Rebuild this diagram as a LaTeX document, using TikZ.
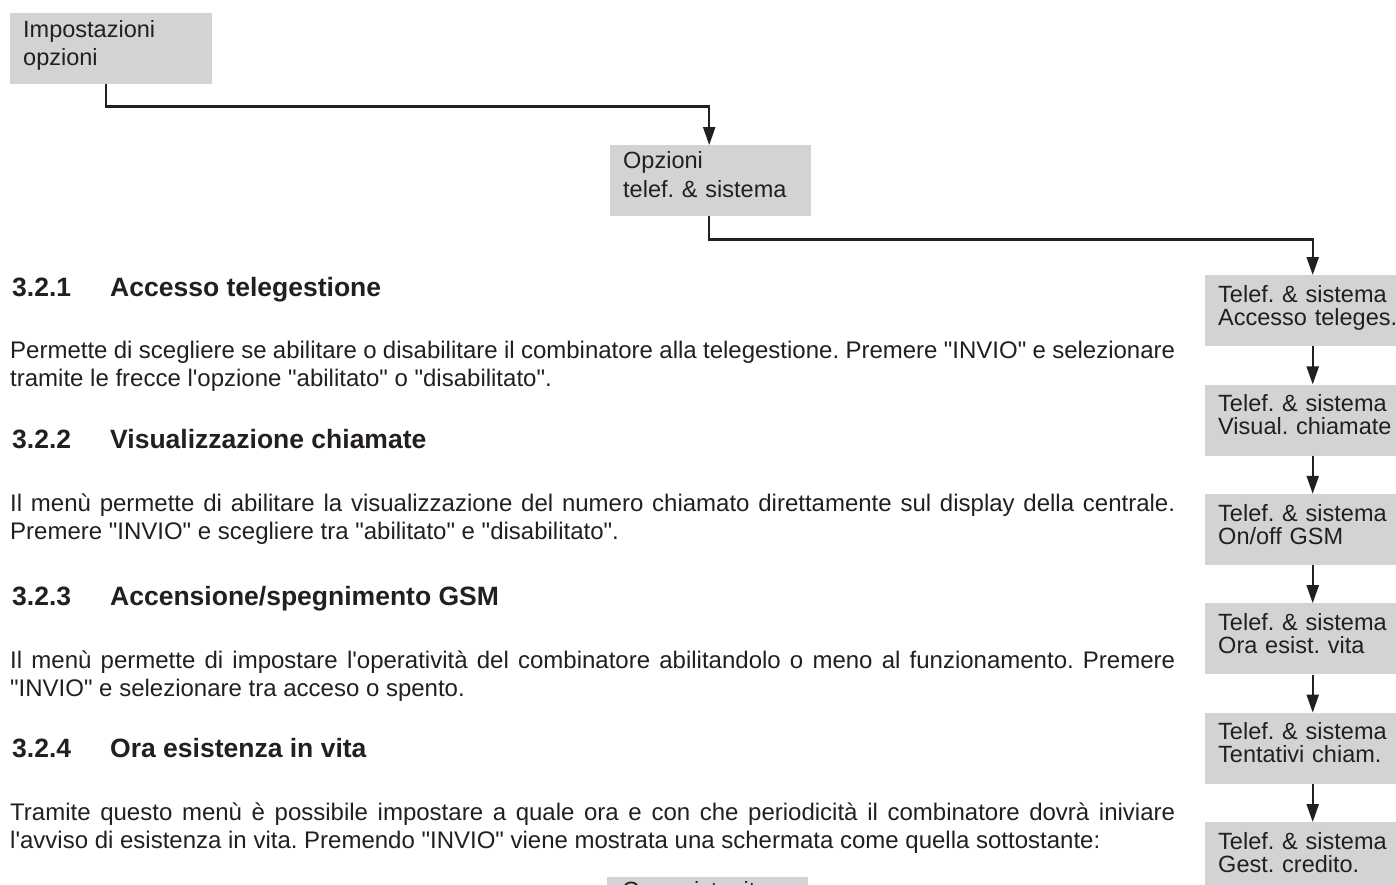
\documentclass[tikz,border=0pt]{standalone}
\usepackage{fontspec}
\setmainfont{Liberation Sans}[Ligatures=TeXOff]
\usetikzlibrary{arrows.meta}
\definecolor{ink}{HTML}{231F20}
\definecolor{boxgray}{HTML}{D1D3D4}
\newcommand\mybodyf{\fontsize{24bp}{28bp}\selectfont}
\newcommand\myheadf{\fontsize{26.5bp}{30bp}\selectfont\bfseries}
\frenchspacing
\begin{document}
\frenchspacing
\begin{tikzpicture}[x=1bp,y=-1bp,
  menubox/.style={fill=boxgray, draw=none, inner ysep=0pt, inner xsep=13bp,
    align=left, text=ink, anchor=north west},
  lbox/.style={menubox, text width=176bp, text height=24bp, text depth=47bp,
    font=\fontsize{23.5bp}{28bp}\selectfont},
  mbox/.style={menubox, text width=175bp, text height=23bp, text depth=48bp,
    font=\fontsize{23.5bp}{29bp}\selectfont},
  rbox/.style={menubox, text width=189bp, text height=27bp, text depth=44bp,
    font=\fontsize{23.5bp}{23bp}\selectfont},
  bbox/.style={menubox, inner xsep=15bp, text width=171bp, text height=21bp, text depth=50bp,
    font=\fontsize{23.5bp}{23bp}\selectfont},
  conn/.style={draw=ink, line width=2.3bp, -{Triangle[length=18bp,width=12bp]}},
  body/.style={font=\mybodyf, text=ink, inner sep=0pt, anchor=base west},
  head/.style={font=\myheadf, text=ink, inner sep=0pt, anchor=base west}
]
\useasboundingbox (0,0) rectangle (1396,884);
\clip (0,0) rectangle (1396,884);
\fill[white] (0,0) rectangle (1396,884);

% menu boxes
\node[lbox] (b1) at (10,13) {Impostazioni\\opzioni};
\node[mbox] (b2) at (610,145) {Opzioni\\telef. \& sistema};
\node[rbox] (r1) at (1205,275) {Telef. \& sistema\\Accesso teleges.};
\node[rbox] (r2) at (1205,384.4) {Telef. \& sistema\\Visual. chiamate};
\node[rbox] (r3) at (1205,493.8) {Telef. \& sistema\\On/off GSM};
\node[rbox] (r4) at (1205,603.2) {Telef. \& sistema\\Ora esist. vita};
\node[rbox] (r5) at (1205,712.6) {Telef. \& sistema\\Tentativi chiam.};
\node[rbox] (r6) at (1205,822) {Telef. \& sistema\\Gest. credito.};
\node[bbox] (b3) at (607,877) {Ora esist. vita};

% connectors
\draw[conn] ([xshift=-5.5bp]b1.south) -- ++(0,22) -| ([xshift=-1.5bp]b2.north);
\draw[conn] ([xshift=-1.5bp]b2.south) -- ++(0,23) -| (r1.north);
\draw[conn] (r1.south) -- (r2.north);
\draw[conn] (r2.south) -- (r3.north);
\draw[conn] (r3.south) -- (r4.north);
\draw[conn] (r4.south) -- (r5.north);
\draw[conn] (r5.south) -- (r6.north);

% section 3.2.1
\node[head] (h1n) at (12,296) {3.2.1};
\node[head] (h1t) at (110,296) {Accesso telegestione};
\node[body] (p1a) at (10,358) {\makebox[1165bp][s]{Permette di scegliere se abilitare o disabilitare il combinatore alla telegestione. Premere "INVIO" e selezionare}};
\node[body] (p1b) at (10,386) {tramite le frecce l'opzione "abilitato" o "disabilitato".};

% section 3.2.2
\node[head] (h2n) at (12,448) {3.2.2};
\node[head] (h2t) at (110,448) {Visualizzazione chiamate};
\node[body] (p2a) at (10,511) {\makebox[1165bp][s]{Il menù permette di abilitare la visualizzazione del numero chiamato direttamente sul display della centrale.}};
\node[body] (p2b) at (10,539) {Premere "INVIO" e scegliere tra "abilitato" e "disabilitato".};

% section 3.2.3
\node[head] (h3n) at (12,605) {3.2.3};
\node[head] (h3t) at (110,605) {Accensione/spegnimento GSM};
\node[body] (p3a) at (10,668) {\makebox[1165bp][s]{Il menù permette di impostare l'operatività del combinatore abilitandolo o meno al funzionamento. Premere}};
\node[body] (p3b) at (10,696) {"INVIO" e selezionare tra acceso o spento.};

% section 3.2.4
\node[head] (h4n) at (12,757) {3.2.4};
\node[head] (h4t) at (110,757) {Ora esistenza in vita};
\node[body] (p4a) at (10,820) {\makebox[1165bp][s]{Tramite questo menù è possibile impostare a quale ora e con che periodicità il combinatore dovrà iniviare}};
\node[body] (p4b) at (10,848) {l'avviso di esistenza in vita. Premendo "INVIO" viene mostrata una schermata come quella sottostante:};
\end{tikzpicture}
\end{document}
